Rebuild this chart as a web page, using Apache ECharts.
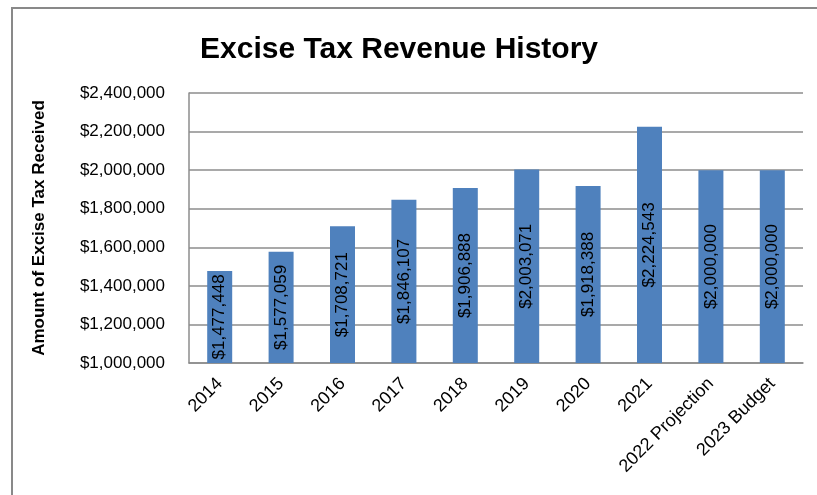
<!DOCTYPE html>
<html>
<head>
<meta charset="utf-8">
<script src="https://cdn.jsdelivr.net/npm/echarts@6/dist/echarts.min.js"></script>
<style>
html,body{margin:0;padding:0;background:#fff;}
#main{width:817px;height:495px;}
</style>
</head>
<body>
<div id="main"></div>
<script>
const categories = ['2014','2015','2016','2017','2018','2019','2020','2021','2022 Projection','2023 Budget'];
const revenue = [1477448, 1577059, 1708721, 1846107, 1906888, 2003071, 1918388, 2224543, 2000000, 2000000];
const yTicks = [1000000, 1200000, 1400000, 1600000, 1800000, 2000000, 2200000, 2400000];

const FONT = '"Liberation Sans", Arial, sans-serif';
const money = v => '$' + Number(v).toLocaleString('en-US');

const chart = echarts.init(document.getElementById('main'), null, {renderer: 'canvas'});
chart.setOption({
  animation: false,
  backgroundColor: '#fff',
  title: {
    text: 'Excise Tax Revenue History',
    left: 394, top: 30, textAlign: 'center',
    textStyle: {fontFamily: FONT, fontSize: 30, fontWeight: 'bold', color: '#000'}
  },
  graphic: [{
    type: 'rect', shape: {x: 12, y: 8, width: 900, height: 600},
    style: {fill: 'none', stroke: '#898989', lineWidth: 2}, silent: true
  }],
  grid: {left: 189, right: 14, top: 93, bottom: 132},
  xAxis: {
    type: 'category', data: categories,
    axisLine: {lineStyle: {color: '#8c8c8c', width: 1.5}},
    axisTick: {show: false},
    axisLabel: {rotate: 45, fontFamily: FONT, fontSize: 18, color: '#000', margin: 18, interval: 0}
  },
  yAxis: {
    type: 'value', min: yTicks[0], max: yTicks[yTicks.length - 1], interval: 200000,
    name: 'Amount of Excise Tax Received', nameLocation: 'middle', nameGap: 141,
    nameTextStyle: {fontFamily: FONT, fontSize: 17, fontWeight: 'bold', color: '#000'},
    axisLine: {show: true, lineStyle: {color: '#8c8c8c', width: 1.5}},
    axisTick: {show: false},
    splitLine: {lineStyle: {color: '#8c8c8c', width: 1.5}},
    axisLabel: {fontFamily: FONT, fontSize: 17, color: '#000', margin: 24, formatter: money}
  },
  series: [{
    type: 'bar', data: revenue, barWidth: 25,
    itemStyle: {color: '#4F81BD'},
    label: {
      show: true, position: 'inside', rotate: 90,
      fontFamily: FONT, fontSize: 17, color: '#000',
      formatter: p => money(p.value)
    }
  }]
});
</script>
</body>
</html>
